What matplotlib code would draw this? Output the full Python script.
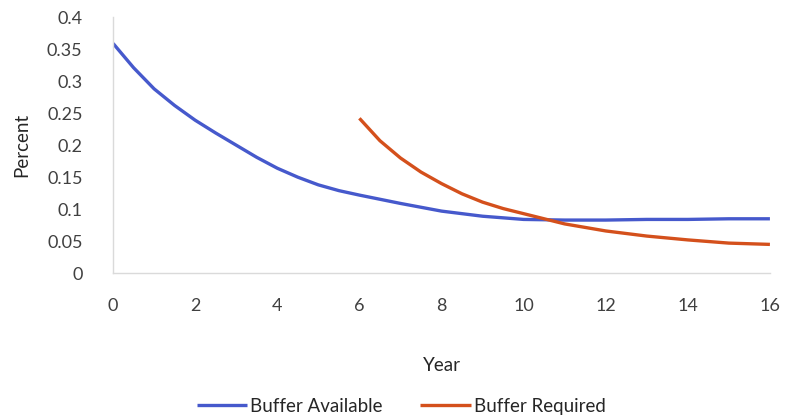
import matplotlib
matplotlib.use("Agg")
import matplotlib.pyplot as plt

plt.rcParams['font.family'] = ['Lato', 'DejaVu Sans']

# Buffer available over the whole horizon
years_available = [0, 0.5, 1, 1.5, 2, 2.5, 3, 3.5, 4, 4.5, 5, 5.5, 6, 7, 8, 9, 10, 11, 12, 13, 14, 15, 16]
buffer_available = [0.359, 0.321, 0.288, 0.262, 0.239, 0.219, 0.200, 0.181, 0.164, 0.150, 0.138, 0.129,
                    0.122, 0.109, 0.097, 0.089, 0.084, 0.083, 0.083, 0.084, 0.084, 0.085, 0.085]

# Buffer required, starting in year 6
years_required = [6, 6.5, 7, 7.5, 8, 8.5, 9, 9.5, 10, 11, 12, 13, 14, 15, 16]
buffer_required = [0.242, 0.207, 0.180, 0.158, 0.140, 0.124, 0.111, 0.101, 0.093, 0.077, 0.066, 0.058,
                   0.052, 0.047, 0.045]

x_ticks = [0, 2, 4, 6, 8, 10, 12, 14, 16]
y_ticks = [0, 0.05, 0.1, 0.15, 0.2, 0.25, 0.3, 0.35, 0.4]
y_tick_labels = ['0', '0.05', '0.1', '0.15', '0.2', '0.25', '0.3', '0.35', '0.4']

fig = plt.figure(figsize=(8.02, 4.19), dpi=100)
ax = fig.add_axes([0.141, 0.348, 0.819, 0.611])

blue = '#4659CC'
orange = '#D4501C'
ax.plot(years_available, buffer_available, color=blue, lw=2.4, label='Buffer Available',
        solid_capstyle='butt')
ax.plot(years_required, buffer_required, color=orange, lw=2.4, label='Buffer Required',
        solid_capstyle='butt')

ax.set_xlim(0, 16)
ax.set_ylim(0, 0.4)
ax.set_xticks(x_ticks)
ax.set_xticklabels([str(t) for t in x_ticks])
ax.set_yticks(y_ticks)
ax.set_yticklabels(y_tick_labels)

for side in ['top', 'right']:
    ax.spines[side].set_visible(False)
for side in ['left', 'bottom']:
    ax.spines[side].set_color('#DADADA')
    ax.spines[side].set_linewidth(1.0)

ax.tick_params(axis='both', length=0, labelsize=13, labelcolor='#404040')
ax.tick_params(axis='y', pad=22)
ax.tick_params(axis='x', pad=18)

ax.set_ylabel('Percent', fontsize=13.5, color='#262626', labelpad=12)
ax.set_xlabel('Year', fontsize=13.5, color='#262626', labelpad=31)

fig.legend(loc='lower center', bbox_to_anchor=(0.5, -0.03), ncol=2, frameon=False,
           fontsize=13.5, handlelength=2.7, handletextpad=0.15, columnspacing=2.0,
           labelcolor='#262626')

fig.savefig('out.png', dpi=100, facecolor='white')
